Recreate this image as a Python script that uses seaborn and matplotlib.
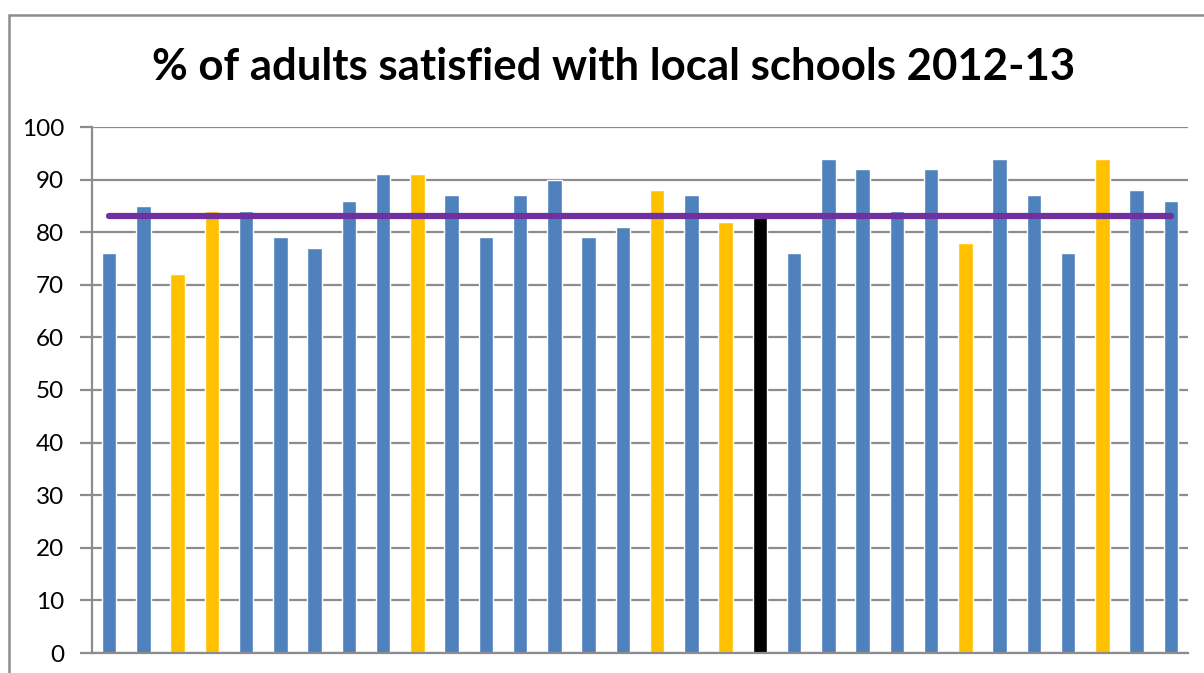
import matplotlib
matplotlib.use("Agg")
import matplotlib.pyplot as plt
import seaborn as sns
import pandas as pd
from matplotlib.patches import Rectangle

# Data
areas = [f"Area {i+1}" for i in range(32)]
satisfied = [76, 85, 72, 84, 84, 79, 77, 86, 91, 91, 87, 79, 87, 90, 79, 81,
             88, 87, 82, 83, 76, 94, 92, 84, 92, 78, 94, 87, 76, 94, 88, 86]
group = ["other", "other", "highlight", "highlight", "other", "other", "other", "other",
         "other", "highlight", "other", "other", "other", "other", "other", "other",
         "highlight", "other", "highlight", "average", "other", "other", "other", "other",
         "other", "highlight", "other", "other", "other", "highlight", "other", "other"]
average = 83
y_ticks = [0, 10, 20, 30, 40, 50, 60, 70, 80, 90, 100]
title = "% of adults satisfied with local schools 2012-13"

palette = {"other": "#4F81BD", "highlight": "#FFC000", "average": "#000000"}

df = pd.DataFrame({"area": areas, "satisfied": satisfied, "group": group})

sns.set_theme(style="white")
plt.rcParams["font.family"] = ["Lato", "DejaVu Sans"]

W, H = 1204, 673
fig = plt.figure(figsize=(W / 100, H / 100), dpi=100)
ax = fig.add_axes([92 / W, (H - 653) / H, (1188 - 92) / W, (653 - 127) / H])

sns.barplot(data=df, x="area", y="satisfied", hue="group", palette=palette,
            dodge=False, width=0.42, legend=False, ax=ax, saturation=1)

xs = list(range(len(areas)))
ax.plot(xs, [average] * len(areas), color="#7030A0", lw=4.5, solid_capstyle="round", zorder=5)

ax.set_ylim(0, 100)
ax.set_xlim(-0.5, len(areas) - 0.5)
ax.set_yticks(y_ticks)
ax.set_yticklabels([str(t) for t in y_ticks], fontsize=17.5, color="black")
ax.set_xticks([])
ax.set_xlabel("")
ax.set_ylabel("")
ax.yaxis.grid(True, color="#8C8C8C", lw=1.6)
ax.set_axisbelow(True)
ax.tick_params(axis="y", length=9, width=1.6, color="#8C8C8C", pad=11, left=True)
for s in ["top", "right"]:
    ax.spines[s].set_visible(False)
ax.spines["left"].set_color("#8C8C8C")
ax.spines["left"].set_linewidth(1.6)
ax.spines["bottom"].set_color("#8C8C8C")
ax.spines["bottom"].set_linewidth(1.6)

fig.text(614 / W, 1 - 67 / H, title, ha="center", va="center",
         fontsize=31.5, fontweight="bold", color="black")

# chart border
fig.patches.append(Rectangle((9 / W, -0.1), 1.5, 1.1 - 15 / H, transform=fig.transFigure,
                             fill=False, edgecolor="#8C8C8C", lw=1.8, zorder=0))

fig.savefig("out.png", dpi=100)
